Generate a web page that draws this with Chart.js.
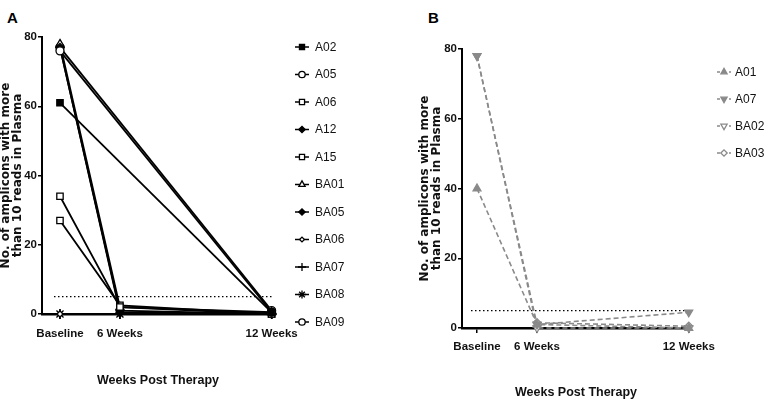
<!DOCTYPE html>
<html>
<head>
<meta charset="utf-8">
<script src="https://cdn.jsdelivr.net/npm/chart.js@4.4.1/dist/chart.umd.min.js"></script>
<style>
  body { margin: 0; background: #fff; width: 767px; height: 404px; position: relative; overflow: hidden; }
  canvas { position: absolute; top: 0; }
  #chartA { left: 0; }
  #chartB { left: 400px; }
  .panel { position: absolute; font: bold 15px 'Liberation Sans', Arial, sans-serif; }
</style>
</head>
<body>
<div class="panel" style="left:7px;top:9px">A</div>
<div class="panel" style="left:428px;top:9px">B</div>
<canvas id="chartA" width="400" height="404"></canvas>
<canvas id="chartB" width="367" height="404"></canvas>
<script>
// ---- data ----
const timeLabels = ['Baseline', '6 Weeks', '12 Weeks'];
// x value of each time point on the (uneven) x axis
const timeSlots = [0, 1, 3.53];
const thresholdValue = 5;
const yTicksMax = 80;

// panel A (null = not measured)
const namesA = ['A02', 'A05', 'A06', 'A12', 'A15', 'BA01', 'BA05', 'BA06', 'BA07', 'BA08', 'BA09'];
const A02 = [61, null, 0.5];
const A05 = [76, null, 0.5];
const A06 = [34, 2, 0];
const A12 = [77, 1, 0];
const A15 = [27, 2.5, 0];
const BA01 = [78, 2, 0.5];
const BA05 = [77, 0.5, 0];
const BA06 = [0, 0, 0];
const BA07 = [0, 0, 0];
const BA08 = [0, 0, 0];
const BA09 = [77, null, 1];
const valuesA = [A02, A05, A06, A12, A15, BA01, BA05, BA06, BA07, BA08, BA09];

// panel B
const namesB = ['A01', 'A07', 'BA02', 'BA03'];
const A01 = [40, 1, 0];
const A07 = [78, 1, 4.5];
const BA02 = [78, 0, 0];
const BA03 = [null, 1.5, 0.5];
const valuesB = [A01, A07, BA02, BA03];

// ---- styles ----
const markersA = [
  { style: 'rect', fill: true, r: 4.5 },
  { style: 'circle', fill: false, r: 4 },
  { style: 'rect', fill: false, r: 4.5 },
  { style: 'rectRot', fill: true, r: 4 },
  { style: 'rect', fill: false, r: 4.5 },
  { style: 'triangle', fill: false, r: 4.5 },
  { style: 'rectRot', fill: true, r: 4 },
  { style: 'rectRot', fill: false, r: 3 },
  { style: 'cross', fill: false, r: 5 },
  { style: 'star', fill: false, r: 5 },
  { style: 'circle', fill: false, r: 4 }
];
const markersB = [
  { style: 'triangle', fill: true, r: 4.5, rot: 0 },
  { style: 'triangle', fill: true, r: 4.5, rot: 180 },
  { style: 'triangle', fill: false, r: 4.5, rot: 180 },
  { style: 'rectRot', fill: false, r: 4, rot: 0 }
];
const grey = '#8a8a8a';
const sansFamily = "'Liberation Sans', Arial, sans-serif";
const tickFont = { family: sansFamily, size: 11.5, weight: 'bold' };
const yTitleFont = { family: "'DejaVu Sans', 'Liberation Sans', Arial, sans-serif", size: 12, weight: 'bold', lineHeight: 1 };

function toPoints(vals) {
  return vals.map((v, i) => ({ x: timeSlots[i], y: v }));
}

function buildDatasets(names, values, markers, color, dash, lineW) {
  const sets = names.map((n, i) => ({
    label: n,
    data: toPoints(values[i]),
    borderColor: color,
    backgroundColor: markers[i].fill ? color : '#fff',
    pointBorderColor: color,
    pointBackgroundColor: markers[i].fill ? color : '#fff',
    pointStyle: markers[i].style,
    pointRadius: markers[i].r,
    pointRotation: markers[i].rot || 0,
    pointBorderWidth: 1.3,
    borderWidth: lineW,
    borderDash: dash,
    spanGaps: true,
    clip: false
  }));
  // dotted threshold line
  sets.push({
    label: '',
    data: [{ x: -0.1, y: thresholdValue }, { x: timeSlots[2], y: thresholdValue }],
    borderColor: '#000',
    borderWidth: 1.2,
    borderDash: [1.5, 2.5],
    pointRadius: 0,
    isThreshold: true
  });
  return sets;
}

// legend drawn as line + marker + name
const sideLegend = {
  id: 'sideLegend',
  afterDraw(chart, args, opts) {
    const ctx = chart.ctx;
    ctx.save();
    chart.data.datasets.forEach((ds, i) => {
      if (ds.isThreshold) return;
      const y = opts.y + i * opts.step;
      ctx.strokeStyle = ds.borderColor;
      ctx.lineWidth = 1.5;
      ctx.setLineDash(ds.borderDash.length ? [3, 3] : []);
      ctx.beginPath();
      ctx.moveTo(opts.x - 7, y);
      ctx.lineTo(opts.x + 7, y);
      ctx.stroke();
      ctx.setLineDash([]);
      ctx.fillStyle = ds.pointBackgroundColor;
      ctx.strokeStyle = ds.pointBorderColor;
      ctx.lineWidth = 1.3;
      Chart.helpers.drawPoint(ctx, {
        pointStyle: ds.pointStyle,
        rotation: ds.pointRotation,
        radius: ds.pointRadius * 0.8,
        borderWidth: 1.3
      }, opts.x, y);
      ctx.fillStyle = '#111';
      ctx.font = '12px ' + sansFamily;
      ctx.textBaseline = 'middle';
      ctx.fillText(ds.label, opts.x + opts.gap, y + 0.5);
    });
    ctx.restore();
  }
};

function makeChart(id, datasets, cfg) {
  return new Chart(document.getElementById(id), {
    type: 'line',
    data: { datasets: datasets },
    plugins: [sideLegend],
    options: {
      responsive: false,
      animation: false,
      layout: { padding: cfg.padding },
      plugins: {
        legend: { display: false },
        tooltip: { enabled: false },
        sideLegend: cfg.legend
      },
      scales: {
        x: {
          type: 'linear',
          min: cfg.xMin,
          max: cfg.xMax,
          afterBuildTicks: s => { s.ticks = timeSlots.map(v => ({ value: v })); },
          afterFit: s => { s.height = cfg.xHeight; },
          ticks: {
            color: '#111',
            font: tickFont,
            padding: cfg.xTickPad,
            maxRotation: 0,
            autoSkip: false,
            callback: v => timeLabels[timeSlots.indexOf(v)]
          },
          grid: { display: true, drawOnChartArea: false, drawTicks: true, tickLength: 5, color: '#000', lineWidth: 1.5 },
          border: { display: true, color: '#000', width: 2.5 },
          title: {
            display: true,
            text: 'Weeks Post Therapy',
            color: '#111',
            font: { family: sansFamily, size: 12.5, weight: 'bold' },
            padding: { top: 0, bottom: cfg.xTitlePad }
          }
        },
        y: {
          min: 0,
          max: yTicksMax,
          afterFit: s => { s.width = cfg.yWidth; },
          ticks: { stepSize: 20, color: '#111', font: tickFont, padding: 1 },
          grid: { display: true, drawOnChartArea: false, drawTicks: true, tickLength: 4, color: '#000', lineWidth: 1.5 },
          border: { display: true, color: '#000', width: 2 },
          title: {
            display: true,
            text: ['No. of amplicons with more', 'than 10 reads in Plasma'],
            color: '#111',
            font: yTitleFont,
            padding: { top: cfg.yTitlePad, bottom: 0 }
          }
        }
      }
    }
  });
}

makeChart('chartA', buildDatasets(namesA, valuesA, markersA, '#000', [], 1.8), {
  padding: { top: 37, right: 126, bottom: 0, left: 0 },
  xMin: -0.3, xMax: 3.57,
  xHeight: 90, xTitlePad: 16, xTickPad: 8,
  yWidth: 42, yTitlePad: 0,
  legend: { x: 302, y: 47, step: 27.5, gap: 13 }
});

makeChart('chartB', buildDatasets(namesB, valuesB, markersB, grey, [5, 3], 1.6), {
  padding: { top: 49, right: 77, bottom: 0, left: 0 },
  xMin: -0.25, xMax: 3.55,
  xHeight: 76, xTitlePad: 4, xTickPad: 7,
  yWidth: 62, yTitlePad: 19,
  legend: { x: 324, y: 72, step: 27, gap: 11 }
});
</script>
</body>
</html>
